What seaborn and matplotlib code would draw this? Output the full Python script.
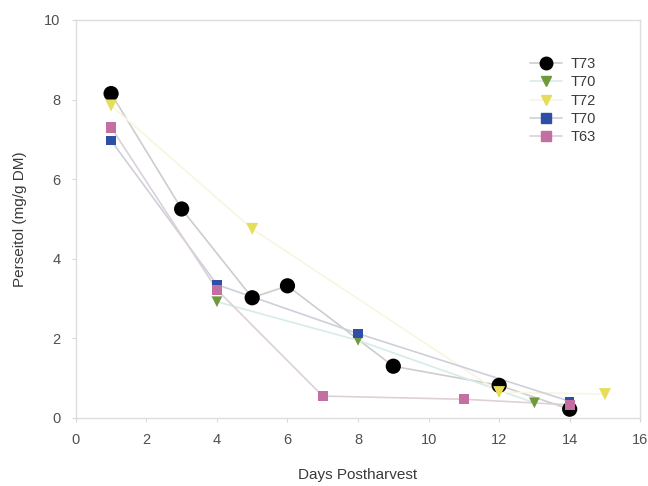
import matplotlib
matplotlib.use("Agg")
import matplotlib.pyplot as plt
from matplotlib.lines import Line2D
import seaborn as sns
import pandas as pd

# Perseitol content over storage time for five fruit lots
series_names = ["T73", "T70", "T72", "T70 ", "T63"]

t73_days = [1, 3, 5, 6, 9, 12, 14]
t73_vals = [8.15, 5.25, 3.02, 3.32, 1.30, 0.82, 0.22]

t70a_days = [4, 8, 13]
t70a_vals = [2.92, 1.95, 0.38]

t72_days = [1, 5, 12, 15]
t72_vals = [7.85, 4.75, 0.65, 0.60]

t70b_days = [1, 4, 8, 14]
t70b_vals = [6.97, 3.35, 2.12, 0.42]

t63_days = [1, 4, 7, 11, 14]
t63_vals = [7.30, 3.22, 0.55, 0.47, 0.33]

x_ticks = [0, 2, 4, 6, 8, 10, 12, 14, 16]
y_ticks = [0, 2, 4, 6, 8, 10]

days = [t73_days, t70a_days, t72_days, t70b_days, t63_days]
vals = [t73_vals, t70a_vals, t72_vals, t70b_vals, t63_vals]

marker_colors = ["#000000", "#6f9a3c", "#e6de5a", "#2f4fa6", "#c46fa2"]
line_colors = ["#cdcdcd", "#d6ecea", "#f7f6e0", "#cdd0da", "#ddd0d8"]
markers = ["o", "v", "v", "s", "s"]
marker_sizes = [120, 60, 75, 45, 55]

sns.set_theme(style="white")
plt.rcParams["font.family"] = ["Liberation Sans", "DejaVu Sans"]

fig = plt.figure(figsize=(6.48, 4.86), dpi=100)
ax = fig.add_axes([0.117, 0.140, 0.871, 0.819])

frames = []
for name, d, v in zip(series_names, days, vals):
    frames.append(pd.DataFrame({"day": d, "val": v, "series": name}))
df = pd.concat(frames, ignore_index=True)

for name, lc, mc, mk, ms in zip(series_names, line_colors, marker_colors,
                                markers, marker_sizes):
    sub = df[df["series"] == name]
    sns.lineplot(data=sub, x="day", y="val", ax=ax, color=lc, lw=1.2,
                 sort=False, estimator=None, zorder=2)
    sns.scatterplot(data=sub, x="day", y="val", ax=ax, color=mc, marker=mk,
                    s=ms, edgecolor="none", zorder=3)

ax.set_xlim(0, 16)
ax.set_ylim(0, 10)
ax.set_xticks(x_ticks)
ax.set_yticks(y_ticks)
ax.set_xlabel("Days Postharvest", fontsize=11, color="#3a3a3a", labelpad=15)
ax.set_ylabel("Perseitol (mg/g DM)", fontsize=11, color="#3a3a3a", labelpad=12)
ax.tick_params(axis="both", labelsize=10.5, colors="#505050", length=3,
               width=0.8, direction="out", pad=8, color="#d8d8d8")
ax.tick_params(axis="both", bottom=True, left=True)
for sp in ax.spines.values():
    sp.set_color("#dddddd")
    sp.set_linewidth(1.0)

handles = [
    Line2D([0], [0], color=lc, lw=1.2, marker=mk, markerfacecolor=mc,
           markeredgecolor=mc, markersize=(9 if mk == "o" else 6.5))
    for lc, mc, mk in zip(line_colors, marker_colors, markers)
]
ax.legend(handles, ["T73", "T70", "T72", "T70", "T63"], loc="upper right",
          bbox_to_anchor=(0.945, 0.94), frameon=False, fontsize=10.5,
          handlelength=2.2, handletextpad=0.6, labelspacing=0.3,
          labelcolor="#3a3a3a")

fig.savefig("out.png", dpi=100)
